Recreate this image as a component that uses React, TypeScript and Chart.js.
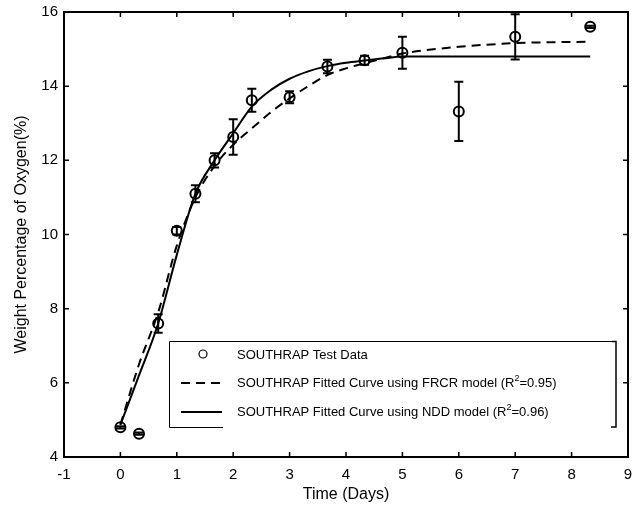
import React, { useEffect, useRef } from "react";
import { Chart, registerables } from "chart.js";

Chart.register(...registerables);

// ---- data ----
const testDays = [0, 0.33, 0.67, 1, 1.33, 1.67, 2, 2.33, 3, 3.67, 4.33, 5, 6, 7, 8.33];
const testOxygen = [4.8, 4.63, 7.6, 10.1, 11.1, 12.0, 12.63, 13.62, 13.7, 14.53, 14.7, 14.9, 13.32, 15.33, 15.6];
const testError = [0.03, 0.03, 0.25, 0.1, 0.23, 0.19, 0.48, 0.31, 0.16, 0.18, 0.12, 0.43, 0.8, 0.61, 0.03];

const curveDays = [0, 0.33, 0.67, 1, 1.33, 1.67, 2, 2.33, 2.67, 3, 3.33, 3.67, 4, 4.33, 4.67, 5, 6, 7, 8.33];
const frcrOxygen = [4.87, 6.5, 7.9, 9.7, 11.0, 11.85, 12.42, 12.86, 13.3, 13.67, 14.0, 14.3, 14.48, 14.62, 14.75, 14.88, 15.06, 15.16, 15.2];
const nddOxygen = [4.87, 6.2, 7.6, 9.45, 11.1, 12.0, 12.73, 13.45, 13.9, 14.2, 14.4, 14.54, 14.63, 14.69, 14.75, 14.8, 14.8, 14.8, 14.8];

const xTicks = [-1, 0, 1, 2, 3, 4, 5, 6, 7, 8, 9];
const yTicks = [4, 6, 8, 10, 12, 14, 16];

const xTitle = "Time (Days)";
const yTitle = "Weight Percentage of Oxygen(%)";
const legendLabels = [
  "SOUTHRAP Test Data",
  "SOUTHRAP Fitted Curve using FRCR model (R²=0.95)",
  "SOUTHRAP Fitted Curve using NDD model (R²=0.96)",
];

const FONT = "'Liberation Sans', Arial, Helvetica, sans-serif";

const errorBarPlugin = {
  id: "errorBars",
  afterDatasetsDraw(chart: any) {
    const { ctx, scales } = chart;
    const xs = scales.x;
    const ys = scales.y;
    ctx.save();
    ctx.strokeStyle = "#000";
    ctx.lineWidth = 2;
    testDays.forEach((d, i) => {
      const px = xs.getPixelForValue(d);
      const top = ys.getPixelForValue(testOxygen[i] + testError[i]);
      const bot = ys.getPixelForValue(testOxygen[i] - testError[i]);
      ctx.beginPath();
      ctx.moveTo(px, top);
      ctx.lineTo(px, bot);
      ctx.moveTo(px - 4.5, top);
      ctx.lineTo(px + 4.5, top);
      ctx.moveTo(px - 4.5, bot);
      ctx.lineTo(px + 4.5, bot);
      ctx.stroke();
    });
    ctx.restore();
  },
};

const frameTicksPlugin = {
  id: "frameTicks",
  afterDraw(chart: any) {
    const { ctx, chartArea: a, scales } = chart;
    ctx.save();
    ctx.strokeStyle = "#000";
    ctx.lineWidth = 2;
    ctx.strokeRect(a.left, a.top, a.right - a.left, a.bottom - a.top);
    ctx.lineWidth = 1.5;
    const len = 5;
    ctx.beginPath();
    xTicks.forEach((t) => {
      const px = scales.x.getPixelForValue(t);
      ctx.moveTo(px, a.bottom);
      ctx.lineTo(px, a.bottom - len);
      ctx.moveTo(px, a.top);
      ctx.lineTo(px, a.top + len);
    });
    yTicks.forEach((t) => {
      const py = scales.y.getPixelForValue(t);
      ctx.moveTo(a.left, py);
      ctx.lineTo(a.left + len, py);
      ctx.moveTo(a.right, py);
      ctx.lineTo(a.right - len, py);
    });
    ctx.stroke();
    ctx.restore();
  },
};

function drawLabel(ctx: CanvasRenderingContext2D, text: string, x: number, y: number) {
  const parts = text.split("²");
  let cx = x;
  parts.forEach((p, i) => {
    ctx.font = `13px ${FONT}`;
    ctx.fillText(p, cx, y);
    cx += ctx.measureText(p).width;
    if (i < parts.length - 1) {
      ctx.font = `9px ${FONT}`;
      ctx.fillText("2", cx, y - 4);
      cx += ctx.measureText("2").width;
    }
  });
}

const legendPlugin = {
  id: "boxLegend",
  afterDraw(chart: any) {
    const { ctx, chartArea: a } = chart;
    const left = a.left + 105;
    const top = a.top + 329;
    const right = a.right - 12;
    const bottom = a.top + 415;
    ctx.save();
    ctx.fillStyle = "#fff";
    ctx.fillRect(left, top, right - left, bottom - top);
    ctx.strokeStyle = "#000";
    ctx.lineWidth = 1;
    ctx.beginPath();
    ctx.moveTo(left + 54, bottom + 0.5);
    ctx.lineTo(left + 0.5, bottom + 0.5);
    ctx.lineTo(left + 0.5, top + 0.5);
    ctx.lineTo(right, top + 0.5);
    ctx.stroke();
    ctx.lineWidth = 1.5;
    ctx.beginPath();
    ctx.moveTo(right - 4, top + 0.5);
    ctx.lineTo(right, top + 0.5);
    ctx.lineTo(right, bottom);
    ctx.lineTo(right - 5, bottom);
    ctx.stroke();

    const rows = [top + 14, top + 42, top + 71];
    const sx0 = left + 12;
    const sx1 = left + 53;
    ctx.fillStyle = "#000";
    ctx.lineWidth = 1.2;
    ctx.beginPath();
    ctx.arc(left + 34, rows[0] - 1, 4, 0, Math.PI * 2);
    ctx.stroke();
    ctx.lineWidth = 2;
    ctx.setLineDash([9, 6]);
    ctx.beginPath();
    ctx.moveTo(sx0, rows[1]);
    ctx.lineTo(sx1, rows[1]);
    ctx.stroke();
    ctx.setLineDash([]);
    ctx.beginPath();
    ctx.moveTo(sx0, rows[2]);
    ctx.lineTo(sx1, rows[2]);
    ctx.stroke();

    ctx.textBaseline = "middle";
    ctx.textAlign = "left";
    legendLabels.forEach((l, i) => drawLabel(ctx, l, left + 68, rows[i]));
    ctx.restore();
  },
};

export default function App() {
  const ref = useRef<HTMLCanvasElement | null>(null);

  useEffect(() => {
    if (!ref.current) return;
    const chart = new Chart(ref.current, {
      type: "scatter",
      data: {
        datasets: [
          {
            label: legendLabels[1],
            data: curveDays.map((d, i) => ({ x: d, y: frcrOxygen[i] })),
            showLine: true,
            borderColor: "#000",
            borderWidth: 2,
            borderDash: [9, 6],
            pointRadius: 0,
            cubicInterpolationMode: "monotone",
            fill: false,
          },
          {
            label: legendLabels[2],
            data: curveDays.map((d, i) => ({ x: d, y: nddOxygen[i] })),
            showLine: true,
            borderColor: "#000",
            borderWidth: 2,
            pointRadius: 0,
            cubicInterpolationMode: "monotone",
            fill: false,
          },
          {
            label: legendLabels[0],
            data: testDays.map((d, i) => ({ x: d, y: testOxygen[i] })),
            showLine: false,
            pointStyle: "circle",
            pointRadius: 5,
            pointBorderWidth: 2,
            pointBorderColor: "#000",
            pointBackgroundColor: "rgba(0,0,0,0)",
          },
        ],
      },
      options: {
        animation: false,
        responsive: true,
        maintainAspectRatio: false,
        layout: { padding: { left: 0, right: 6, top: 12, bottom: 0 } },
        plugins: {
          legend: { display: false },
          tooltip: { enabled: false },
        },
        scales: {
          x: {
            type: "linear",
            min: -1,
            max: 9,
            afterFit: (s: any) => {
              s.height = 51;
              s.paddingLeft = 0;
              s.paddingRight = 0;
            },
            afterBuildTicks: (s: any) => {
              s.ticks = xTicks.map((v) => ({ value: v }));
            },
            ticks: {
              color: "#000",
              font: { family: FONT, size: 15 },
              padding: 9,
              maxRotation: 0,
              autoSkip: false,
              callback: (v: any) => String(v),
            },
            grid: { display: false, drawTicks: false },
            border: { display: false },
            title: {
              display: true,
              text: xTitle,
              color: "#000",
              font: { family: FONT, size: 16 },
              padding: { top: 0, bottom: 4 },
            },
          },
          y: {
            type: "linear",
            min: 4,
            max: 16,
            afterFit: (s: any) => {
              s.width = 64;
              s.paddingTop = 0;
              s.paddingBottom = 0;
            },
            afterBuildTicks: (s: any) => {
              s.ticks = yTicks.map((v) => ({ value: v }));
            },
            ticks: {
              color: "#000",
              font: { family: FONT, size: 15 },
              padding: 6,
              autoSkip: false,
              callback: (v: any) => String(v),
            },
            grid: { display: false, drawTicks: false },
            border: { display: false },
            title: {
              display: true,
              text: yTitle,
              color: "#000",
              font: { family: FONT, size: 16 },
              padding: { top: 12, bottom: 0 },
            },
          },
        },
      },
      plugins: [errorBarPlugin, frameTicksPlugin, legendPlugin],
    } as any);
    return () => chart.destroy();
  }, []);

  return (
    <div style={{ position: "fixed", left: 0, top: 0, width: 635, height: 508, background: "#fff" }}>
      <canvas ref={ref} />
    </div>
  );
}
